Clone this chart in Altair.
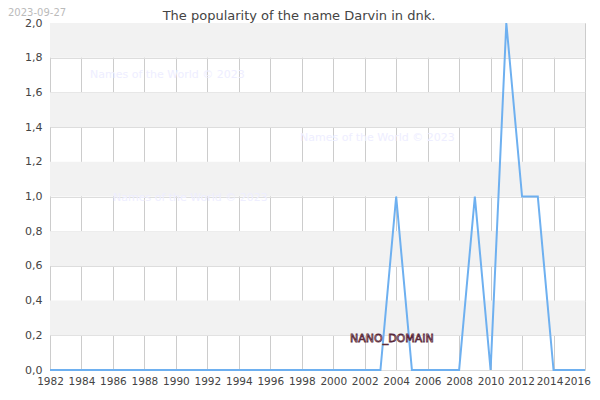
import altair as alt
import pandas as pd

years = list(range(1982, 2017))
values = [0]*22 + [1, 0, 0, 0, 0, 1, 0, 2, 1, 1, 0, 0, 0]
# 1982..2003 zero, 2004=1, 2005-2008=0, 2009=1, 2010=0, 2011=2, 2012=1, 2013=1, 2014-2016=0
band_lo = [0.2, 0.6, 1.0, 1.4, 1.8]
band_hi = [0.4, 0.8, 1.2, 1.6, 2.0]
x_ticks = list(range(1982, 2017, 2))
y_ticks = [0, 0.2, 0.4, 0.6, 0.8, 1.0, 1.2, 1.4, 1.6, 1.8, 2.0]
title = "The popularity of the name Darvin in dnk."
date_label = "2023-09-27"
watermark = "Names of the World © 2023"
domain_label = "NANO_DOMAIN"

df = pd.DataFrame({"year": years, "value": values})
bands = pd.DataFrame({"lo": band_lo, "hi": band_hi})

W, H = 535, 347
FONT = "DejaVu Sans"

xs = alt.Scale(domain=[1982, 2016], nice=False, zero=False)
ys = alt.Scale(domain=[0, 2], nice=False)

y_axis = alt.Axis(values=y_ticks,
                  labelExpr="replace(format(datum.value, '.1f'), '.', ',')",
                  title=None, grid=True, gridColor="#dddddd", domain=False, ticks=False,
                  labelFont=FONT, labelFontSize=11, labelColor="#444444",
                  labelPadding=8, labelFlush=False, labelOverlap=False,
                  labelSeparation=0)
x_axis = alt.Axis(values=x_ticks, format="d", title=None,
                  grid=True, gridColor="#cccccc", domain=False, ticks=False,
                  labelFont=FONT, labelFontSize=10.5, labelColor="#444444",
                  labelPadding=6, labelOverlap=False, labelFlush=False,
                  labelOffset={"condition": [
                      {"test": "datum.value == 2016", "value": -8},
                      {"test": "datum.value == 2014", "value": -4},
                      {"test": "datum.value == 2012", "value": -1}],
                      "value": 0})

band_layer = alt.Chart(bands).mark_rect(color="#f2f2f2").encode(
    y=alt.Y("lo:Q", scale=ys, axis=y_axis),
    y2="hi:Q",
    x=alt.value(0),
    x2=alt.value(W),
)

line = alt.Chart(df).mark_line(color="#6eb0f0", strokeWidth=2).encode(
    x=alt.X("year:Q", scale=xs, axis=x_axis),
    y=alt.Y("value:Q", scale=ys, axis=y_axis),
)

def label(text, px, py, **kw):
    return alt.Chart(pd.DataFrame({"t": [text]})).mark_text(font=FONT, **kw).encode(
        x=alt.value(px), y=alt.value(py), text="t:N")

# positions relative to plot area (plot top-left at screen 50,23)
wm1 = label(watermark, 40, 52, fontSize=11, color="#eeeeff", align="left", baseline="middle")
wm2 = label(watermark, 250, 115, fontSize=11, color="#eeeeff", align="left", baseline="middle")
wm3 = label(watermark, 63, 175, fontSize=11, color="#eeeeff", align="left", baseline="middle")
nano = label(domain_label, 300, 316, fontSize=11, fill="#f5dfe5", stroke="#5a2a3a",
             strokeWidth=0.8, align="left", baseline="middle")
date = label(date_label, -42, -15, fontSize=10, color="#bbbbbb", align="left", baseline="top")
ttl = label(title, 249, -13, fontSize=13, color="#444444", align="center", baseline="top")

chart = alt.layer(band_layer, line, wm1, wm2, wm3, nano, date, ttl).properties(
    width=W, height=H,
    autosize=alt.AutoSizeParams(type="none"),
    padding={"left": 42, "top": 15, "right": 7, "bottom": 20},
).configure_view(stroke="#000000", strokeWidth=1.5).configure(background="white")

chart.save("out.html", embed_options={"renderer": "svg", "actions": False})
